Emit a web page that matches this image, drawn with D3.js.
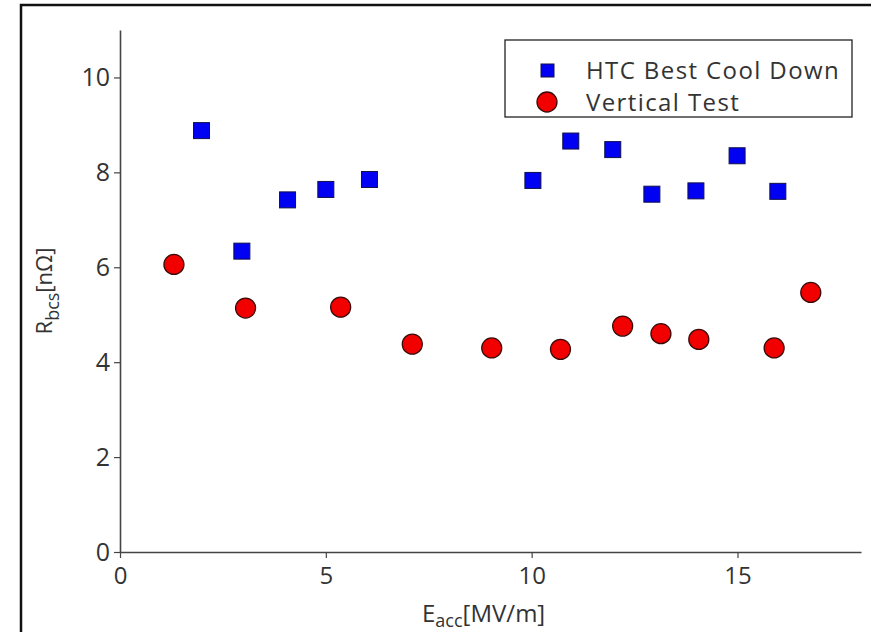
<!DOCTYPE html>
<html>
<head>
<meta charset="utf-8">
<script src="https://cdn.jsdelivr.net/npm/d3@7"></script>
<style>
  body { margin: 0; background: #fff; }
  text { font-family: "Open Sans", sans-serif; fill: #333; }
</style>
</head>
<body>
<script>
// HTC best cool down (squares) vs vertical test (circles)
const htcE = [1.98, 2.96, 4.07, 5.0, 6.06, 10.03, 10.95, 11.97, 12.92, 13.99, 14.99, 15.98]
const htcR = [8.88, 6.34, 7.42, 7.64, 7.85, 7.83, 8.66, 8.48, 7.54, 7.61, 8.35, 7.60]
const vtE = [1.31, 3.05, 5.36, 7.10, 9.03, 10.70, 12.21, 13.14, 14.06, 15.89, 16.78]
const vtR = [6.06, 5.14, 5.16, 4.38, 4.30, 4.27, 4.76, 4.60, 4.48, 4.30, 5.47]
const xTicks = [0, 5, 10, 15]
const yTicks = [0, 2, 4, 6, 8, 10]
const seriesNames = ["HTC Best Cool Down", "Vertical Test"]

const width = 871, height = 632
const margin = {left: 120, right: 10, top: 30, bottom: 80}

const svg = d3.select("body").append("svg")
    .attr("width", width)
    .attr("height", height)

// outer frame (right/bottom run off the picture)
svg.append("rect")
    .attr("x", 21).attr("y", 5)
    .attr("width", 870).attr("height", 640)
    .attr("fill", "none")
    .attr("stroke", "#111")
    .attr("stroke-width", 2.5)

const x = d3.scaleLinear().domain([0, 18]).range([margin.left, width - margin.right])
const y = d3.scaleLinear().domain([0, 11]).range([height - margin.bottom, margin.top])

const xAxis = svg.append("g")
    .attr("transform", `translate(0,${y(0)})`)
    .call(d3.axisBottom(x).tickValues(xTicks).tickSize(6).tickSizeOuter(0).tickPadding(9))
const yAxis = svg.append("g")
    .attr("transform", `translate(${x(0)},0)`)
    .call(d3.axisLeft(y).tickValues(yTicks).tickSize(6).tickSizeOuter(0).tickPadding(4))

for (const ax of [xAxis, yAxis]) {
  ax.select(".domain").attr("stroke", "#444").attr("stroke-width", 1.6)
  ax.selectAll(".tick line").attr("stroke", "#444").attr("stroke-width", 1.2)
  ax.selectAll(".tick text").attr("font-size", 25).attr("font-family", "Open Sans").attr("fill", "#333")
}
xAxis.selectAll(".tick text").attr("font-size", 24)

// axis titles
const xl = svg.append("text")
    .attr("x", 422).attr("y", 622)
    .attr("font-size", 24)
xl.append("tspan").text("E")
xl.append("tspan").attr("dy", 5).attr("font-size", 18).text("acc")
xl.append("tspan").attr("dy", -5).text("[MV/m]")

const yl = svg.append("text")
    .attr("transform", `translate(52,${(y(0) + y(11)) / 2}) rotate(-90)`)
    .attr("text-anchor", "middle")
    .attr("font-size", 22)
yl.append("tspan").text("R")
yl.append("tspan").attr("dy", 7).attr("font-size", 18).text("bcs")
yl.append("tspan").attr("dy", -7).text("[nΩ]")

// markers
const sq = 16
svg.append("g")
  .selectAll("rect")
  .data(htcE.map((e, i) => [e, htcR[i]]))
  .join("rect")
    .attr("x", d => x(d[0]) - sq / 2)
    .attr("y", d => y(d[1]) - sq / 2)
    .attr("width", sq).attr("height", sq)
    .attr("fill", "#0000f2")
    .attr("stroke", "#10104a")
    .attr("stroke-width", 1)

svg.append("g")
  .selectAll("circle")
  .data(vtE.map((e, i) => [e, vtR[i]]))
  .join("circle")
    .attr("cx", d => x(d[0]))
    .attr("cy", d => y(d[1]))
    .attr("r", 10)
    .attr("fill", "#f20000")
    .attr("stroke", "#3a0a0a")
    .attr("stroke-width", 1.3)

// legend
const lg = svg.append("g")
lg.append("rect")
    .attr("x", 505).attr("y", 40)
    .attr("width", 347).attr("height", 77)
    .attr("fill", "#fff")
    .attr("stroke", "#222")
    .attr("stroke-width", 1.3)
lg.append("rect")
    .attr("x", 541).attr("y", 64).attr("width", 13).attr("height", 13)
    .attr("fill", "#0000f2").attr("stroke", "#10104a")
lg.append("circle")
    .attr("cx", 547).attr("cy", 102).attr("r", 10)
    .attr("fill", "#f20000").attr("stroke", "#3a0a0a").attr("stroke-width", 1.3)
lg.selectAll("text.lab")
  .data(seriesNames)
  .join("text")
    .attr("class", "lab")
    .attr("x", 586)
    .attr("y", (d, i) => 71 + i * 32)
    .attr("dy", "0.35em")
    .attr("font-size", 24)
    .attr("letter-spacing", 1.4)
    .attr("fill", "#222")
    .text(d => d)
</script>
</body>
</html>
